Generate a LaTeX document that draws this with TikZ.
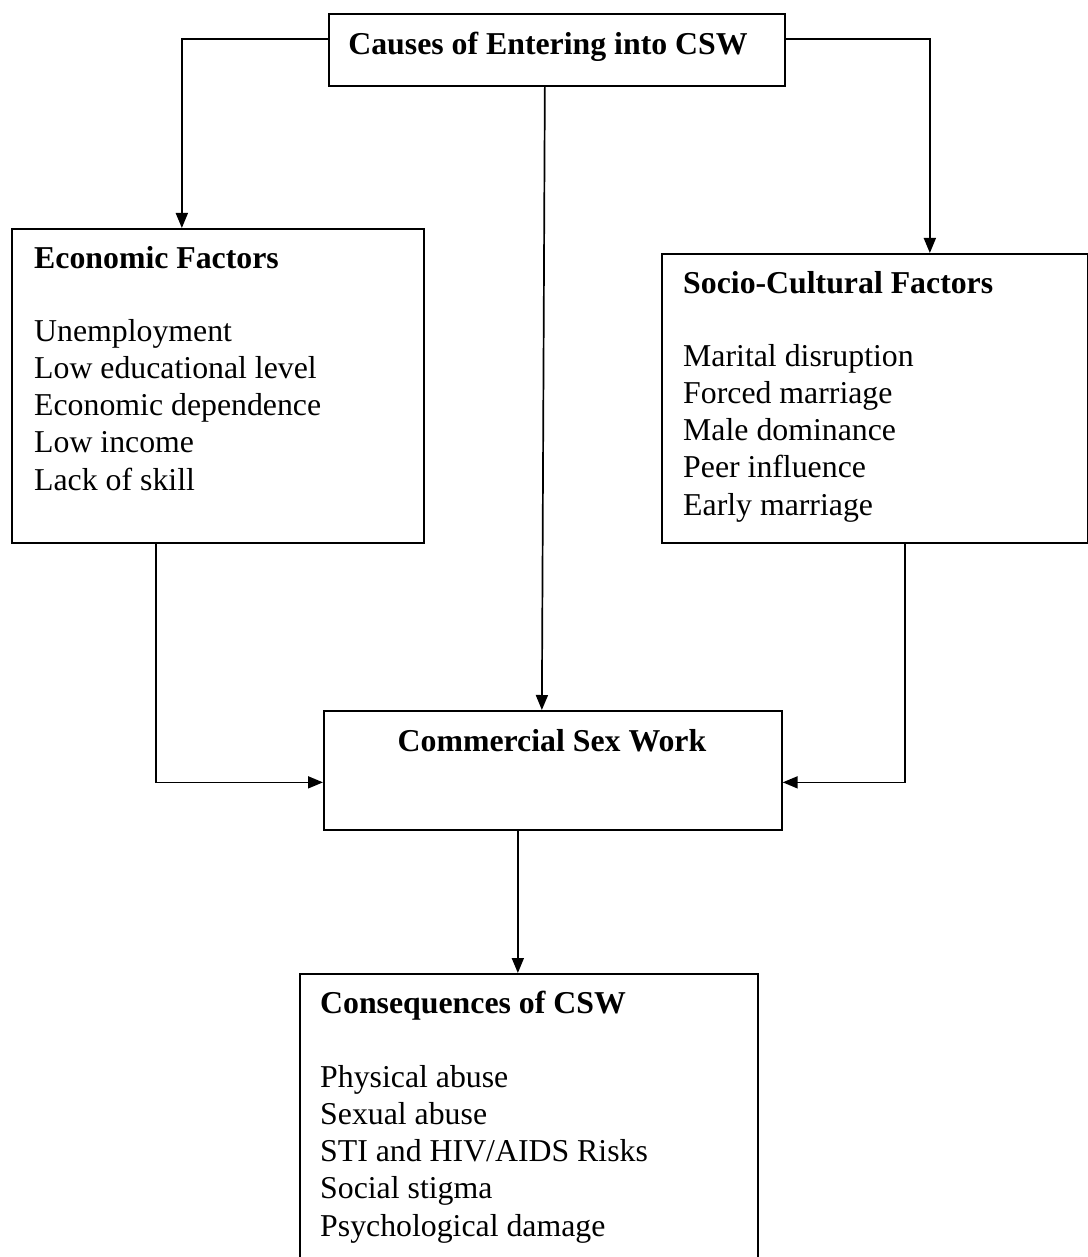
\documentclass[tikz,border=0pt]{standalone}
\usepackage{fontspec}
\setmainfont{Liberation Serif}
\usetikzlibrary{arrows.meta,calc}
\begin{document}
\begin{tikzpicture}[x=1pt,y=-1pt,
  box/.style={draw, line width=1.7pt, inner sep=0pt, anchor=north west},
  txt/.style={anchor=base west, inner sep=0pt, font=\fontsize{31.8}{37.2}\selectfont, align=left},
  conn/.style={line width=1.7pt, -{Triangle[length=15pt,width=12pt]}}]
\useasboundingbox (0,0) rectangle (1087,1257);
\fill[white] (0,0) rectangle (1087,1257);
% boxes
\node[box, minimum width=456pt, minimum height=72pt] (top) at (328,13) {};
\node[box, minimum width=412pt, minimum height=314pt] (econ) at (11,228) {};
\node[box, minimum width=426pt, minimum height=289pt] (soc) at (661,253) {};
\node[box, minimum width=458pt, minimum height=119pt] (csw) at (323,710) {};
\node[box, minimum width=458pt, minimum height=300pt] (cons) at (299,973) {};
% texts
\node[anchor=base, inner sep=0pt, font=\fontsize{31.8}{37}\selectfont\bfseries] (toptxt) at (548,55) {Causes of Entering into CSW};
\node[txt] (econtitle) at (34,268) {\textbf{Economic Factors}};
\node[txt] (econlist) at (34,490) {Unemployment\\Low educational level\\Economic dependence\\Low income\\Lack of skill};
\node[txt] (soctitle) at (683,293) {\textbf{Socio-Cultural Factors}};
\node[txt] (soclist) at (683,515) {Marital disruption\\Forced marriage\\Male dominance\\Peer influence\\Early marriage};
\node[anchor=base, inner sep=0pt, font=\fontsize{31.8}{37}\selectfont\bfseries] (cswtxt) at (552,751) {Commercial Sex Work};
\node[txt] (constitle) at (320,1013) {\textbf{Consequences of CSW}};
\node[txt] (conslist) at (320,1236) {Physical abuse\\Sexual abuse\\STI and HIV/AIDS Risks\\Social stigma\\Psychological damage};
% connectors
\draw[conn] ([yshift=11pt]top.west) -| ([xshift=-36pt]econ.north);
\draw[conn] ([yshift=11pt]top.east) -| ([xshift=55pt]soc.north);
\draw[conn] ([xshift=-12pt]top.south) -- ([xshift=-11pt]csw.north);
\draw[conn] ([xshift=-62pt]econ.south) |- ([yshift=-12pt]csw.west);
\draw[conn] ([xshift=30pt]soc.south) |- ([yshift=-12pt]csw.east);
\draw[conn] ([xshift=-35pt]csw.south) -- ([xshift=-11pt]cons.north);
\end{tikzpicture}
\end{document}
